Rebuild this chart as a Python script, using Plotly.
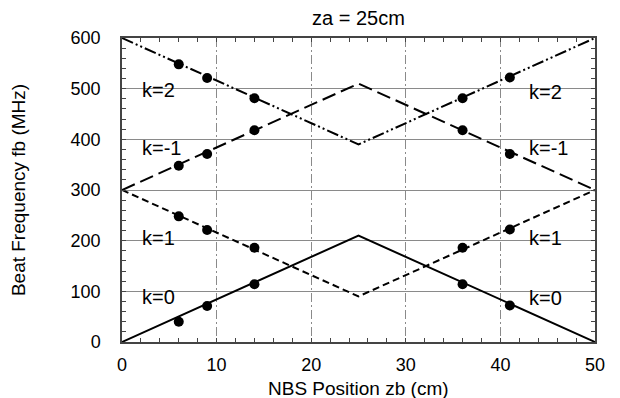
import plotly.graph_objects as go

# Data
line_x = [0, 25, 50]
k0_line = [0, 210, 0]
k1_line = [300, 90, 300]
km1_line = [300, 510, 300]
k2_line = [600, 390, 600]

pts_x = [6, 9, 14, 36, 41]
k0_pts = [40, 71, 114, 114, 72]
k1_pts = [248, 221, 186, 186, 222]
km1_pts = [348, 371, 418, 418, 371]
k2_pts = [548, 521, 481, 481, 522]

labels_left = ["k=2", "k=-1", "k=1", "k=0"]
labels_left_y = [498, 383, 206, 88]
labels_right = ["k=2", "k=-1", "k=1", "k=0"]
labels_right_y = [494, 383, 205, 87]

FONT = "Liberation Sans, Arial, Helvetica, sans-serif"

fig = go.Figure()
line_specs = [
    (k0_line, "solid"),
    (k1_line, "7px,4px"),
    (km1_line, "14px,6px"),
    (k2_line, "12px,3px,2px,3px,2px,3px"),
]
for ys, dash in line_specs:
    fig.add_trace(go.Scatter(x=line_x, y=ys, mode="lines",
                             line=dict(color="black", width=2, dash=dash),
                             showlegend=False, hoverinfo="skip"))
for ys in [k0_pts, k1_pts, km1_pts, k2_pts]:
    fig.add_trace(go.Scatter(x=pts_x, y=ys, mode="markers",
                             marker=dict(color="black", size=10),
                             showlegend=False))

for t, y in zip(labels_left, labels_left_y):
    fig.add_annotation(x=1.9, y=y, text=t, showarrow=False, xanchor="left",
                       yanchor="middle", font=dict(size=20, color="black", family=FONT))
for t, y in zip(labels_right, labels_right_y):
    fig.add_annotation(x=42.8, y=y, text=t, showarrow=False, xanchor="left",
                       yanchor="middle", font=dict(size=20, color="black", family=FONT))

# x-axis title as an annotation below the tick labels
fig.add_annotation(x=0.5, xref="paper", y=0, yref="paper", yshift=-46,
                   text="NBS Position zb (cm)", showarrow=False,
                   xanchor="center", yanchor="middle",
                   font=dict(size=19, color="black", family=FONT))

fig.update_layout(
    width=604, height=398,
    margin=dict(l=114, r=17, t=30, b=64),
    paper_bgcolor="white", plot_bgcolor="white",
    font=dict(family=FONT, size=18, color="black"),
    title=dict(text="za = 25cm", x=0.5, xref="paper", xanchor="center",
               y=1 - 10 / 398, yref="container", yanchor="middle",
               font=dict(size=20, family=FONT, color="black")),
)
fig.update_xaxes(
    range=[0, 50], tickmode="array", tickvals=[0, 10, 20, 30, 40, 50],
    automargin=False,
    showgrid=True, gridcolor="#8a8a8a", gridwidth=1, griddash="9px,3px,2px,3px",
    zeroline=False, showline=True, linecolor="#444", linewidth=1.5, mirror="allticks",
    ticks="inside", ticklen=0, tickcolor="#444", ticklabelstandoff=6,
    minor=dict(dtick=2, ticks="inside", ticklen=4, tickcolor="#444", showgrid=False),
    tickfont=dict(size=18),
)
fig.update_yaxes(
    range=[0, 600], tickmode="array", tickvals=[0, 100, 200, 300, 400, 500, 600],
    automargin=False,
    showgrid=True, gridcolor="#8a8a8a", gridwidth=1,
    zeroline=False, showline=True, linecolor="#444", linewidth=1.5, mirror="allticks",
    ticks="inside", ticklen=0, tickcolor="#444", ticklabelstandoff=16,
    minor=dict(dtick=20, ticks="inside", ticklen=4, tickcolor="#444", showgrid=False),
    title=dict(text="Beat Frequency fb (MHz)", standoff=40, font=dict(size=19)),
    tickfont=dict(size=18),
)

fig.write_html("out.html")
